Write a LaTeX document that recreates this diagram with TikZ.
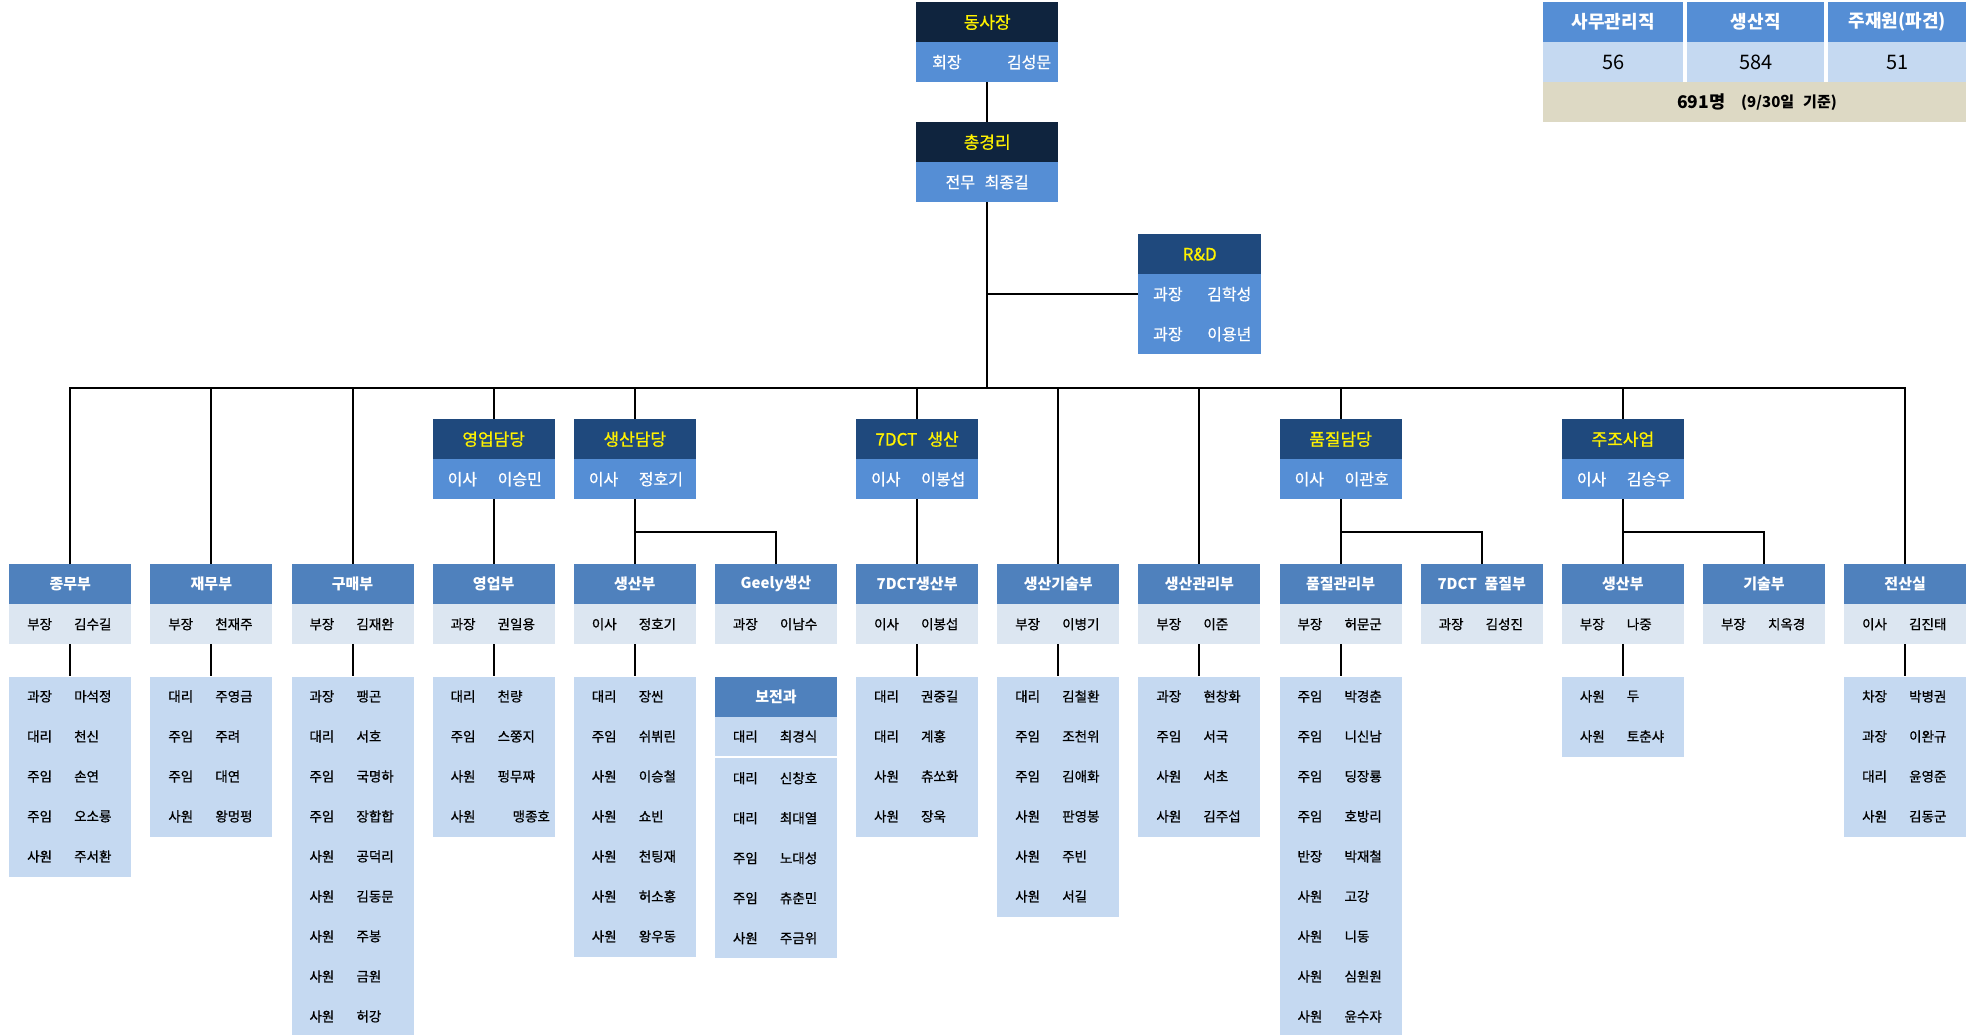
\documentclass[tikz,border=0pt]{standalone}
\usepackage{fontspec}
\setmainfont{Noto Sans CJK KR}
\newfontfamily\medf{Noto Sans CJK KR}[FakeBold=0.8]
\definecolor{navy}{HTML}{0F243E}
\definecolor{dkblue}{HTML}{1F497D}
\definecolor{midblue}{HTML}{558ED5}
\definecolor{hdblue}{HTML}{4F81BD}
\definecolor{paleblue}{HTML}{DCE6F1}
\definecolor{litblue}{HTML}{C5D9F1}
\definecolor{tanrow}{HTML}{DDD9C4}
\tikzset{
  box/.style={draw=none, inner sep=0pt, anchor=north west, minimum width=122pt, minimum height=40pt},
  topbox/.style={box, minimum width=142pt},
  ylw/.style={text=yellow, font=\medf\fontsize{17}{20}\selectfont},
  depthd/.style={box, fill=hdblue, text=white, font=\fontsize{15}{17}\selectfont\bfseries},
  lbl/.style={inner sep=0pt, anchor=west, text=black, font=\medf\fontsize{13.5}{16}\selectfont},
  lblw/.style={inner sep=0pt, anchor=west, text=white, font=\medf\fontsize{16}{18}\selectfont},
  conn/.style={line width=2pt, black},
}
\newcommand{\headbox}[5]{%
  \pgfmathsetmacro{\xs}{9+141.15*#2}
  \node[box, fill=dkblue, ylw] (#1H) at (\xs,419) {#3};
  \node[box, fill=midblue] (#1S) at (\xs,459) {};
  \node[lblw] (#1St) at ([xshift=15pt]#1S.west) {#4};
  \node[lblw] (#1Sn) at ([xshift=65pt]#1S.west) {#5};
}
\newcommand{\deptbox}[5]{%
  \pgfmathsetmacro{\xs}{9+141.15*#2}
  \node[depthd] (#1h) at (\xs,564) {#3};
  \node[box, fill=paleblue] (#1s) at (\xs,604) {};
  \node[lbl] (#1st) at ([xshift=18pt]#1s.west) {#4};
  \node[lbl] (#1sn) at ([xshift=65pt]#1s.west) {#5};
}
\newcommand{\mrows}[2]{%
  \foreach \t/\n [count=\k from 0] in {#2} {
    \node[lbl] (#1-\k-t) at ([xshift=18pt, yshift={-20pt-40pt*\k}]#1.north west) {\t};
    \node[lbl] (#1-\k-n) at ([xshift=65pt, yshift={-20pt-40pt*\k}]#1.north west) {\n};
  }}
\newcommand{\memberbox}[3]{%
  \pgfmathsetmacro{\hh}{40*#2}
  \node[box, fill=litblue, minimum height=\hh pt] (#1m) at ([yshift=-32pt]#1s.south west) {};
  \mrows{#1m}{#3}
  \draw[conn] (#1s.south) -- (#1m.north);
}
\begin{document}
\begin{tikzpicture}[x=1pt,y=-1pt]
\useasboundingbox (0,0) rectangle (1973,1034);
\clip (0,0) rectangle (1973,1034);
\coordinate (busy) at (0,388);
\coordinate (suby) at (0,532);

% top boxes
\node[topbox, fill=navy, ylw] (ceoH) at (916,2) {동사장};
\node[topbox, fill=midblue] (ceoS) at (916,42) {};
\node[lblw] (ceoSt) at ([xshift=16pt]ceoS.west) {회장};
\node[lblw, anchor=east] (ceoSn) at ([xshift=-7pt]ceoS.east) {김성문};
\node[topbox, fill=navy, ylw] (gmH) at (916,122) {총경리};
\node[topbox, fill=midblue, text=white, font=\medf\fontsize{16}{18}\selectfont] (gmS) at (916,162) {전무\hspace{0.6em}최종길};

% R&D
\node[box, minimum width=123pt, fill=dkblue, ylw] (rdH) at (1138,234) {R\&D};
\node[box, minimum width=123pt, fill=midblue] (rd1) at (1138,274) {};
\node[box, minimum width=123pt, fill=midblue] (rd2) at (1138,314) {};
\node[lblw] (rd1t) at ([xshift=15pt]rd1.west) {과장};
\node[lblw] (rd1n) at ([xshift=69pt]rd1.west) {김학성};
\node[lblw] (rd2t) at ([xshift=15pt]rd2.west) {과장};
\node[lblw] (rd2n) at ([xshift=69pt]rd2.west) {이용년};

% summary table
\node[box, minimum width=140pt, fill=midblue, text=white, font=\fontsize{18}{20}\selectfont\bfseries] (t1) at (1543,2) {사무관리직};
\node[box, minimum width=137pt, fill=midblue, text=white, font=\fontsize{18}{20}\selectfont\bfseries] (t2) at (1687,2) {생산직};
\node[box, minimum width=138pt, fill=midblue, text=white, font=\fontsize{18}{20}\selectfont\bfseries] (t3) at (1828,2) {주재원(파견)};
\node[box, minimum width=140pt, fill=litblue, font=\fontsize{20}{22}\selectfont] (v1) at (1543,42) {56};
\node[box, minimum width=137pt, fill=litblue, font=\fontsize{20}{22}\selectfont] (v2) at (1687,42) {584};
\node[box, minimum width=138pt, fill=litblue, font=\fontsize{20}{22}\selectfont] (v3) at (1828,42) {51};
\node[box, minimum width=423pt, fill=tanrow] (tb) at (1543,82) {};
\node[inner sep=0pt, anchor=west, font=\fontsize{17.5}{20}\selectfont\bfseries] (tbA) at (1677,102) {691명};
\node[inner sep=0pt, anchor=west, font=\fontsize{15}{17}\selectfont\bfseries] (tbB) at (1741,103) {(9/30일\hspace{0.6em}기준)};

% head boxes
\headbox{h3}{3}{영업담당}{이사}{이승민}
\headbox{h4}{4}{생산담당}{이사}{정호기}
\headbox{h6}{6}{7DCT\hspace{0.6em}생산}{이사}{이봉섭}
\headbox{h9}{9}{품질담당}{이사}{이관호}
\headbox{h11}{11}{주조사업}{이사}{김승우}

% departments
\deptbox{d0}{0}{종무부}{부장}{김수길}
\deptbox{d1}{1}{재무부}{부장}{천재주}
\deptbox{d2}{2}{구매부}{부장}{김재완}
\deptbox{d3}{3}{영업부}{과장}{권일용}
\deptbox{d4}{4}{생산부}{이사}{정호기}
\deptbox{d5}{5}{Geely생산}{과장}{이남수}
\deptbox{d6}{6}{7DCT생산부}{이사}{이봉섭}
\deptbox{d7}{7}{생산기술부}{부장}{이병기}
\deptbox{d8}{8}{생산관리부}{부장}{이준}
\deptbox{d9}{9}{품질관리부}{부장}{허문군}
\deptbox{d10}{10}{7DCT\hspace{0.5em}품질부}{과장}{김성진}
\deptbox{d11}{11}{생산부}{부장}{나중}
\deptbox{d12}{12}{기술부}{부장}{치옥경}
\deptbox{d13}{13}{전산실}{이사}{김진태}

% member lists
\memberbox{d0}{5}{과장/마석정, 대리/천신, 주임/손연, 주임/오소룡, 사원/주서환}
\memberbox{d1}{4}{대리/주영금, 주임/주려, 주임/대연, 사원/왕멍펑}
\memberbox{d2}{9}{과장/팽곤, 대리/서호, 주임/국명하, 주임/장합합, 사원/공덕리, 사원/김동문, 사원/주봉, 사원/금원, 사원/허강}
\memberbox{d3}{4}{대리/천량, 주임/스쭝지, 사원/펑무쨔, 사원/\hspace{15pt}맹종호}
\memberbox{d4}{7}{대리/장씬, 주임/쉬뷔린, 사원/이승철, 사원/쇼빈, 사원/천팅재, 사원/허소홍, 사원/왕우동}
\memberbox{d6}{4}{대리/권중길, 대리/계홍, 사원/츄쏘화, 사원/장욱}
\memberbox{d7}{6}{대리/김철환, 주임/조천위, 주임/김애화, 사원/판영봉, 사원/주빈, 사원/서길}
\memberbox{d8}{4}{과장/현창화, 주임/서국, 사원/서초, 사원/김주섭}
\memberbox{d9}{9}{주임/박경춘, 주임/니신남, 주임/딩장룡, 주임/호방리, 반장/박재철, 사원/고강, 사원/니동, 사원/심원원, 사원/윤수쟈}
\memberbox{d11}{2}{사원/두, 사원/토춘샤}
\memberbox{d13}{4}{차장/박병권, 과장/이완규, 대리/윤영준, 사원/김동군}

% Geely: 보전과
\node[depthd] (bj) at ([yshift=-32pt]d5s.south west) {보전과};
\node[box, fill=litblue, minimum height=39pt] (bjr) at (bj.south west) {};
\node[lbl] (bjrt) at ([xshift=18pt]bjr.west) {대리};
\node[lbl] (bjrn) at ([xshift=65pt]bjr.west) {최경식};
\node[box, fill=litblue, minimum height=200pt] (d5m) at ([yshift=-2pt]bjr.south west) {};
\mrows{d5m}{대리/신창호, 대리/최대열, 주임/노대성, 주임/츄춘민, 사원/주금위}

% connectors
\draw[conn] (ceoS.south) -- (gmH.north);
\draw[conn] (gmS.south) -- (gmS.south |- busy);
\draw[conn] (gmS.south |- rd1.west) -- (rd1.west);
\draw[conn] (d0h.north) -- (d0h.north |- busy) -- (d13h.north |- busy) -- (d13h.north);
\foreach \n in {d1h,d2h,h3H,h4H,h6H,d7h,d8h,h9H,h11H}
  \draw[conn] (\n.north |- busy) -- (\n.north);
\draw[conn] (h3S.south) -- (d3h.north);
\draw[conn] (h6S.south) -- (d6h.north);
\draw[conn] (h4S.south) -- (h4S.south |- suby);
\draw[conn] (d4h.north) -- (d4h.north |- suby) -- (d5h.north |- suby) -- (d5h.north);
\draw[conn] (h9S.south) -- (h9S.south |- suby);
\draw[conn] (d9h.north) -- (d9h.north |- suby) -- (d10h.north |- suby) -- (d10h.north);
\draw[conn] (h11S.south) -- (h11S.south |- suby);
\draw[conn] (d11h.north) -- (d11h.north |- suby) -- (d12h.north |- suby) -- (d12h.north);
\end{tikzpicture}
\end{document}
